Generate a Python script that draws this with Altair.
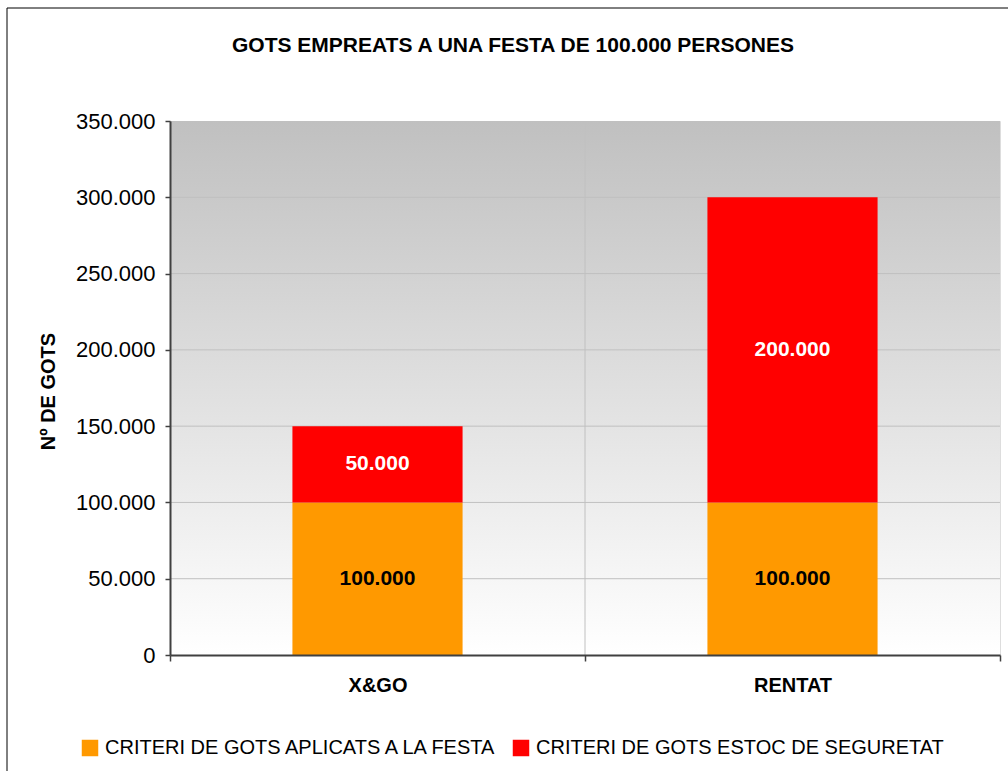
import altair as alt
import pandas as pd

# ---- data ----
categories = ["X&GO", "RENTAT"]
series = ["CRITERI DE GOTS APLICATS A LA FESTA", "CRITERI DE GOTS ESTOC DE SEGURETAT"]
aplicats = [100000, 100000]
estoc = [50000, 200000]
y_ticks = [0, 50000, 100000, 150000, 200000, 250000, 300000, 350000]
grid_values = [50000, 100000, 150000, 200000, 250000, 300000]
boundary_category = ["RENTAT"]
colors = ["#FF9900", "#FF0000"]
title_text = "GOTS EMPREATS A UNA FESTA DE 100.000 PERSONES"
y_title = "Nº DE GOTS"

rows = []
for i, c in enumerate(categories):
    rows.append({"category": c, "series": series[0], "order": 0, "value": aplicats[i]})
    rows.append({"category": c, "series": series[1], "order": 1, "value": estoc[i]})
df = pd.DataFrame(rows)
grid_df = pd.DataFrame({"v": grid_values})
vline_df = pd.DataFrame({"category": boundary_category})
one = pd.DataFrame({"a": [0]})

FONT = "Liberation Sans"
W, H = 830, 534

x_scale = alt.Scale(domain=categories, paddingInner=0, paddingOuter=0)
y_scale = alt.Scale(domain=[0, 350000], nice=False)

x_axis = alt.Axis(
    grid=False, tickBand="extent", domainColor="#404040", domainWidth=2,
    tickColor="#404040", tickWidth=1.5, tickSize=6, labelFont=FONT, labelFontSize=20,
    labelFontWeight="bold", labelColor="black", labelPadding=14, labelAngle=0,
    zindex=1,
)
y_axis = alt.Axis(
    values=y_ticks, format=",.0f", grid=False, domainColor="#404040", domainWidth=2,
    tickColor="#404040", tickWidth=1.5, tickSize=5, labelFont=FONT, labelFontSize=22,
    labelColor="black", labelPadding=10, titleFont=FONT, titleFontSize=20,
    titleFontWeight="bold", titleColor="black", titleX=-122, titleY=270,
    titleAlign="center", titleBaseline="middle", zindex=1,
)

X = lambda f: alt.X(f, sort=categories, scale=x_scale, axis=x_axis, title=None)
Y = lambda f: alt.Y(f, scale=y_scale, axis=y_axis, title=y_title)

frame = alt.Chart(one).mark_rect(filled=False, stroke="black", strokeWidth=1).encode(
    x=alt.value(-163), x2=alt.value(W + 20), y=alt.value(-113), y2=alt.value(H + 130)
)

gradient = {
    "gradient": "linear", "x1": 0, "y1": 0, "x2": 0, "y2": 1,
    "stops": [{"offset": 0, "color": "#c0c0c0"}, {"offset": 1, "color": "#ffffff"}],
}
bg = alt.Chart(one).mark_rect(fill=gradient).encode(
    x=alt.value(0), x2=alt.value(W), y=alt.value(0), y2=alt.value(H)
)

grid = alt.Chart(grid_df).mark_rule(color="#c0c0c0", strokeWidth=1).encode(y=Y("v:Q"))

vline = alt.Chart(vline_df).mark_rule(color="#c0c0c0", strokeWidth=1).encode(
    x=alt.X("category:N", sort=categories, scale=x_scale, axis=x_axis, title=None, bandPosition=0)
)

base = alt.Chart(df).transform_stack(
    stack="value", groupby=["category"], sort=[alt.SortField("order")], as_=["y0", "y1"]
)

bars = base.mark_bar(width=alt.RelativeBandSize(0.41)).encode(
    x=X("category:N"),
    y=Y("y0:Q"),
    y2="y1:Q",
    color=alt.Color(
        "series:N",
        scale=alt.Scale(domain=series, range=colors),
        legend=alt.Legend(
            title=None, orient="none", legendX=-90, legendY=617, direction="horizontal",
            symbolType="square", symbolSize=272, symbolStrokeWidth=0, labelFont=FONT,
            labelFontSize=20, labelColor="black", labelOffset=5, columnPadding=12,
            labelLimit=600,
        ),
    ),
    order=alt.Order("order:Q"),
)

labels = base.transform_calculate(mid="(datum.y0 + datum.y1) / 2").mark_text(
    font=FONT, fontSize=21, fontWeight="bold", baseline="middle"
).encode(
    x=X("category:N"),
    y=Y("mid:Q"),
    text=alt.Text("value:Q", format=",.0f"),
    color=alt.condition(alt.datum.order == 1, alt.value("white"), alt.value("black")),
)

chart = alt.layer(frame, bg, grid, vline, bars, labels).properties(
    width=W, height=H,
    autosize=alt.AutoSizeParams(type="none"),
    padding={"left": 170, "top": 121, "right": 8, "bottom": 116},
    title=alt.TitleParams(
        text=title_text, font=FONT, fontSize=21, fontWeight="bold", color="black",
        anchor="middle", dx=-72, offset=-48,
    ),
).configure_view(stroke="#808080", strokeWidth=2).configure(
    locale={"number": {"decimal": ",", "thousands": ".", "grouping": [3], "currency": ["", " €"]}}
)

chart.save("out.html", embed_options={"renderer": "svg", "actions": False})
